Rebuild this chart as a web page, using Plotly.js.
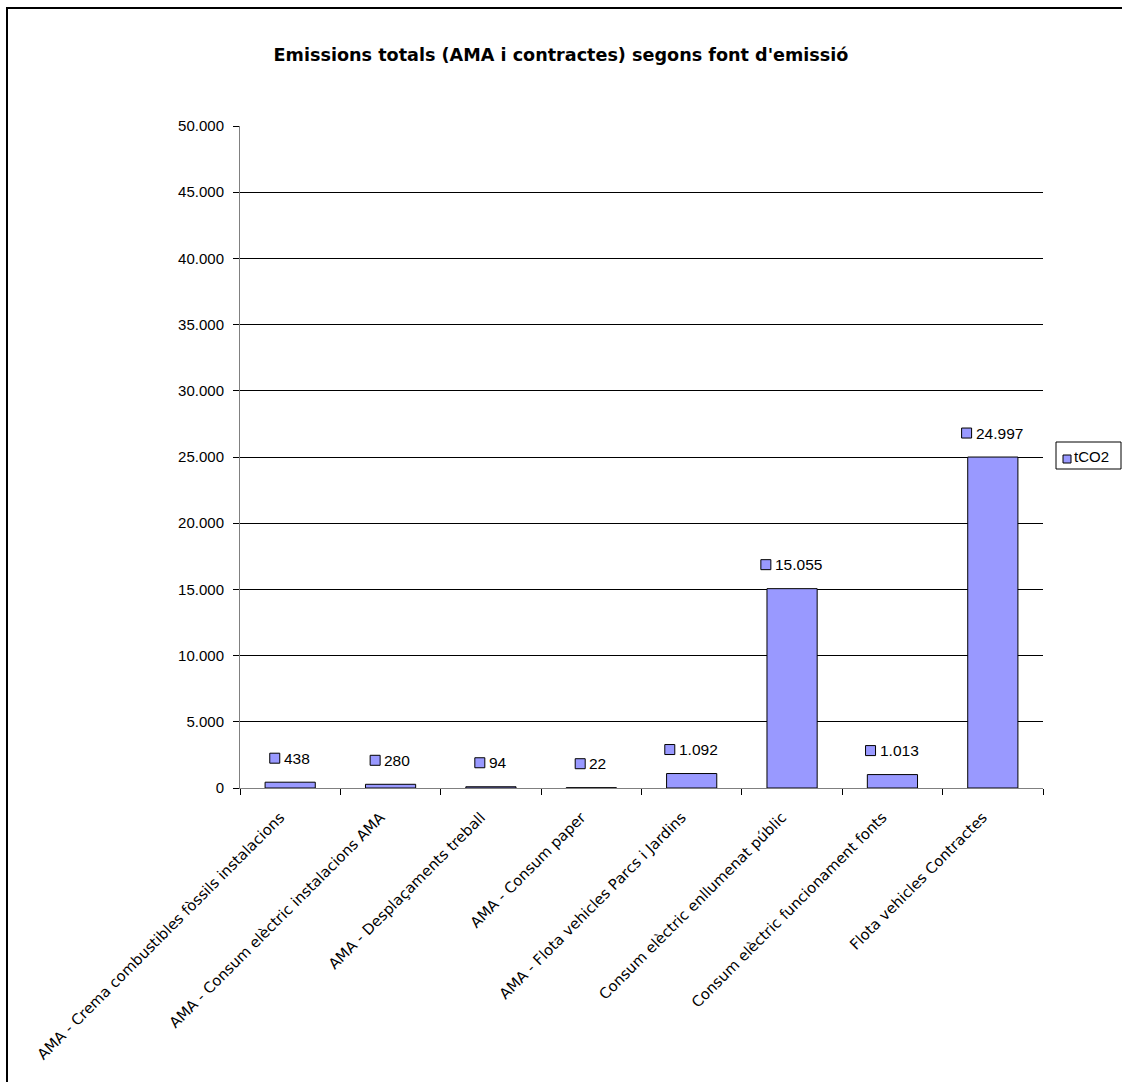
<!DOCTYPE html>
<html>
<head>
<meta charset="utf-8">
<script src="https://cdn.plot.ly/plotly-3.0.1.min.js"></script>
<style>
  html, body { margin: 0; padding: 0; background: #fff; }
  #chart { width: 1122px; height: 1082px; }
</style>
</head>
<body>
<div id="chart"></div>
<script>
// ---- data ----
const categories = [
  "AMA - Crema combustibles fòssils instalacions",
  "AMA - Consum elèctric instalacions AMA",
  "AMA - Desplaçaments treball",
  "AMA - Consum paper",
  "AMA - Flota vehicles Parcs i Jardins",
  "Consum elèctric enllumenat públic",
  "Consum elèctric funcionament fonts",
  "Flota vehicles Contractes"
];
const tCO2 = [438, 280, 94, 22, 1092, 15055, 1013, 24997];
const seriesName = "tCO2";
const chartTitle = "Emissions totals (AMA i contractes) segons font d'emissió";
const yTickVals = [0, 5000, 10000, 15000, 20000, 25000, 30000, 35000, 40000, 45000, 50000];

// ---- layout constants ----
const W = 1122, H = 1082;
const L = 240, R = 1043, T = 126, B = 788;
const barColor = "#9999ff";
const labelFont = { family: "Liberation Sans, Arial, sans-serif", size: 15, color: "#000" };
const dataFont = { family: "Liberation Sans, Arial, sans-serif", size: 15.5, color: "#000" };

function fmt(v) {
  return String(v).replace(/\B(?=(\d{3})+(?!\d))/g, ".");
}
const ctx = document.createElement("canvas").getContext("2d");
ctx.font = dataFont.size + 'px "Liberation Sans"';
function textW(s) { return ctx.measureText(s).width; }

const pxX = p => (p - L) / (R - L);
const pxY = p => (B - p) / (B - T);

const SQ = 10, GAP = 5, LIFT = 24;
const shapes = [];
const annotations = [];

categories.forEach((c, i) => {
  const label = fmt(tCO2[i]);
  const gw = SQ + GAP + textW(label);
  const left = -gw / 2;
  shapes.push({
    type: "rect", xref: "x", yref: "y",
    xsizemode: "pixel", ysizemode: "pixel",
    xanchor: c, yanchor: tCO2[i],
    x0: left, x1: left + SQ,
    y0: LIFT - SQ / 2, y1: LIFT + SQ / 2,
    fillcolor: barColor, line: { color: "#000", width: 1 }
  });
  annotations.push({
    x: c, y: tCO2[i], xref: "x", yref: "y",
    text: label, showarrow: false,
    xanchor: "left", yanchor: "middle",
    xshift: left + SQ + GAP - 2, yshift: LIFT,
    font: dataFont, borderpad: 0
  });
});

// legend box (drawn manually to match the compact key)
shapes.push({
  type: "rect", xref: "paper", yref: "paper",
  x0: pxX(1056), x1: pxX(1121), y0: pxY(469), y1: pxY(442),
  fillcolor: "#fff", line: { color: "#000", width: 1 }
});
shapes.push({
  type: "rect", xref: "paper", yref: "paper",
  x0: pxX(1063), x1: pxX(1071), y0: pxY(463), y1: pxY(455),
  fillcolor: barColor, line: { color: "#000", width: 1 }
});
annotations.push({
  x: pxX(1073), y: pxY(456), xref: "paper", yref: "paper",
  text: seriesName, showarrow: false, xanchor: "left", yanchor: "middle",
  font: labelFont, borderpad: 0
});

// outer chart border
shapes.push({
  type: "rect", xref: "paper", yref: "paper",
  x0: pxX(7), x1: pxX(1200), y0: pxY(1150), y1: pxY(8),
  line: { color: "#000", width: 2 }, fillcolor: "rgba(0,0,0,0)", layer: "below"
});

const trace = {
  type: "bar",
  x: categories,
  y: tCO2,
  name: seriesName,
  marker: { color: barColor, line: { color: "#000", width: 1 } },
  hoverinfo: "x+y",
  showlegend: false
};

const layout = {
  width: W, height: H,
  margin: { l: L, r: W - R, t: T, b: H - B, autoexpand: false },
  paper_bgcolor: "#fff", plot_bgcolor: "#fff",
  separators: ",.",
  bargap: 0.5,
  showlegend: false,
  title: {
    text: chartTitle,
    x: 0.5, xref: "container", xanchor: "center",
    y: 1 - 55 / H, yref: "container", yanchor: "middle",
    font: { family: "DejaVu Sans, Verdana, sans-serif", size: 17.6, weight: "bold", color: "#000" }
  },
  xaxis: {
    type: "category",
    tickangle: -45,
    ticks: "outside", ticklen: 6, tickcolor: "#000",
    tickson: "boundaries",
    ticklabelstandoff: 14,
    ticklabelshift: -10,
    showline: true, linecolor: "#808080", linewidth: 1,
    showgrid: false, automargin: false,
    tickfont: { family: "DejaVu Sans, Verdana, sans-serif", size: 14.8, color: "#000" }
  },
  yaxis: {
    range: [0, 50000],
    tickvals: yTickVals,
    tickformat: ",d",
    ticks: "outside", ticklen: 6, tickcolor: "#000",
    ticklabelstandoff: 6,
    showline: true, linecolor: "#808080", linewidth: 1,
    showgrid: true, gridcolor: "#000", gridwidth: 1,
    zeroline: false, automargin: false,
    tickfont: labelFont
  },
  shapes: shapes,
  annotations: annotations
};

Plotly.newPlot("chart", [trace], layout, { displayModeBar: false, staticPlot: false });
</script>
</body>
</html>
